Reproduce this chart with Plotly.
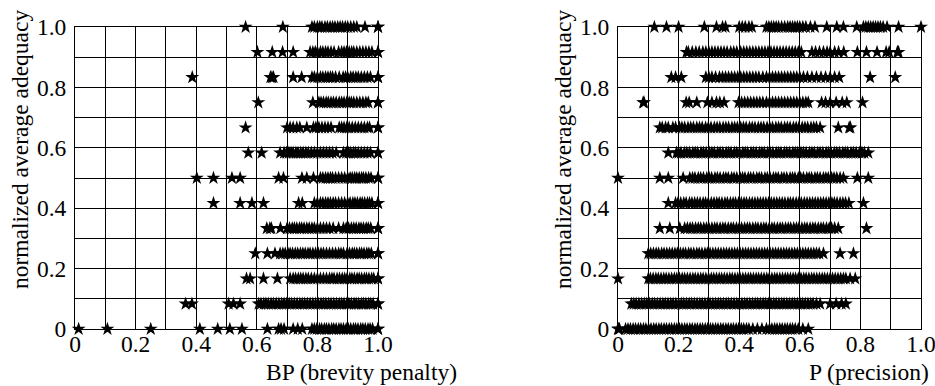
import plotly.graph_objects as go

# ---------------- data ----------------
ADEQUACY_LEVELS = [0.0, 0.0833, 0.1667, 0.25, 0.3333, 0.4167, 0.5,
                   0.5833, 0.6667, 0.75, 0.8333, 0.9167, 1.0]

X_TICK_VALUES = [0.0, 0.1, 0.2, 0.3, 0.4, 0.5, 0.6, 0.7, 0.8, 0.9, 1.0]
X_TICK_TEXT = ["0", "", "0.2", "", "0.4", "", "0.6", "", "0.8", "", "1.0"]
Y_TICK_VALUES = [0.0, 0.1, 0.2, 0.3, 0.4, 0.5, 0.6, 0.7, 0.8, 0.9, 1.0]
Y_TICK_TEXT = ["0", "", "0.2", "", "0.4", "", "0.6", "", "0.8", "", "1.0"]

# BP (brevity penalty) values, one list per adequacy level
BP_00 = [0.012, 0.107, 0.25, 0.412, 0.471, 0.511, 0.551, 0.635, 0.672, 0.68, 0.69, 0.72, 0.735, 0.75,
         0.782, 0.79, 0.798, 0.807, 0.814, 0.823, 0.83, 0.838, 0.847, 0.854, 0.862, 0.871, 0.878, 0.886,
         0.895, 0.902, 0.91, 0.919, 0.926, 0.934, 0.943, 0.95, 0.958, 0.967, 0.974, 0.982, 1.0, 1.0]
BP_01 = [0.365, 0.386, 0.507, 0.523, 0.545, 0.606, 0.614, 0.623, 0.63, 0.638, 0.647, 0.655, 0.664,
         0.673, 0.682, 0.69, 0.698, 0.707, 0.715, 0.724, 0.733, 0.742, 0.75, 0.758, 0.767, 0.776, 0.785,
         0.794, 0.803, 0.812, 0.82, 0.828, 0.837, 0.845, 0.854, 0.863, 0.872, 0.88, 0.888, 0.897, 0.904,
         0.912, 0.921, 0.928, 0.936, 0.945, 0.952, 0.96, 0.969, 0.976, 0.984, 1.0, 1.0]
BP_02 = [0.566, 0.578, 0.622, 0.668, 0.71, 0.72, 0.728, 0.737, 0.745, 0.753, 0.762, 0.77, 0.78, 0.79,
         0.8, 0.81, 0.82, 0.83, 0.84, 0.848, 0.855, 0.865, 0.873, 0.882, 0.89, 0.898, 0.907, 0.914, 0.922,
         0.931, 0.938, 0.946, 0.955, 0.962, 0.97, 0.979, 0.986, 1.0, 1.0]
BP_03 = [0.595, 0.635, 0.66, 0.677, 0.686, 0.694, 0.703, 0.71, 0.718, 0.727, 0.735, 0.744, 0.752, 0.76,
         0.769, 0.776, 0.785, 0.794, 0.803, 0.812, 0.82, 0.83, 0.84, 0.85, 0.86, 0.87, 0.878, 0.886, 0.898,
         0.906, 0.915, 0.922, 0.93, 0.939, 0.946, 0.954, 0.963, 0.97, 0.978, 1.0, 1.0]
BP_04 = [0.633, 0.643, 0.648, 0.678, 0.7, 0.708, 0.717, 0.724, 0.732, 0.741, 0.748, 0.756, 0.765, 0.773,
         0.782, 0.79, 0.8, 0.81, 0.82, 0.83, 0.84, 0.852, 0.87, 0.886, 0.895, 0.903, 0.912, 0.92, 0.928,
         0.937, 0.944, 0.952, 0.961, 0.968, 0.976, 1.0, 1.0]
BP_05 = [0.457, 0.545, 0.584, 0.622, 0.738, 0.75, 0.79, 0.8, 0.81, 0.818, 0.827, 0.835, 0.843, 0.852,
         0.86, 0.87, 0.88, 0.89, 0.9, 0.908, 0.917, 0.924, 0.932, 0.941, 0.948, 0.956, 0.965, 0.972, 0.98,
         1.0, 1.0]
BP_06 = [0.402, 0.457, 0.518, 0.545, 0.672, 0.688, 0.749, 0.765, 0.787, 0.81, 0.818, 0.827, 0.835, 0.843,
         0.85, 0.86, 0.87, 0.88, 0.89, 0.9, 0.908, 0.915, 0.923, 0.93, 0.938, 0.946, 0.952, 0.96, 0.969,
         0.977, 1.0, 1.0]
BP_07 = [0.572, 0.616, 0.677, 0.69, 0.698, 0.706, 0.713, 0.72, 0.729, 0.736, 0.745, 0.753, 0.762, 0.77,
         0.78, 0.79, 0.8, 0.81, 0.82, 0.83, 0.84, 0.85, 0.862, 0.886, 0.895, 0.903, 0.91, 0.919, 0.926,
         0.935, 0.945, 0.955, 0.965, 0.975, 1.0, 1.0]
BP_08 = [0.563, 0.7, 0.71, 0.72, 0.732, 0.742, 0.765, 0.787, 0.795, 0.805, 0.815, 0.825, 0.835, 0.845,
         0.872, 0.88, 0.888, 0.897, 0.905, 0.915, 0.925, 0.935, 0.945, 0.955, 0.965, 0.972, 1.0, 1.0]
BP_09 = [0.605, 0.785, 0.805, 0.812, 0.82, 0.829, 0.836, 0.845, 0.853, 0.862, 0.872, 0.88, 0.888, 0.897,
         0.905, 0.912, 0.92, 0.93, 0.94, 0.95, 0.96, 0.968, 1.0, 1.0]
BP_10 = [0.387, 0.645, 0.65, 0.655, 0.72, 0.748, 0.782, 0.79, 0.8, 0.81, 0.818, 0.827, 0.835, 0.843,
         0.85, 0.86, 0.872, 0.885, 0.893, 0.9, 0.91, 0.918, 0.927, 0.935, 0.945, 0.955, 0.965, 0.975,
         1.0, 1.0]
BP_11 = [0.602, 0.651, 0.685, 0.72, 0.776, 0.785, 0.793, 0.8, 0.81, 0.818, 0.827, 0.835, 0.845, 0.855,
         0.87, 0.88, 0.888, 0.896, 0.905, 0.913, 0.92, 0.93, 0.94, 0.95, 0.96, 0.97, 0.98, 1.0, 1.0]
BP_12 = [0.563, 0.686, 0.782, 0.79, 0.8, 0.808, 0.815, 0.825, 0.833, 0.842, 0.85, 0.858, 0.867, 0.875,
         0.883, 0.892, 0.9, 0.91, 0.92, 0.93, 0.957, 1.0, 1.0]

# P (precision) values, one list per adequacy level
P_00 = [0.0, 0.002, 0.005, 0.025, 0.033, 0.041, 0.05, 0.058, 0.067, 0.075, 0.084, 0.092, 0.101, 0.109,
        0.118, 0.126, 0.135, 0.143, 0.152, 0.16, 0.169, 0.177, 0.186, 0.194, 0.203, 0.211, 0.22, 0.228,
        0.237, 0.245, 0.254, 0.262, 0.271, 0.279, 0.288, 0.296, 0.305, 0.313, 0.322, 0.33, 0.339, 0.347,
        0.356, 0.364, 0.373, 0.381, 0.39, 0.398, 0.407, 0.415, 0.424, 0.432, 0.445, 0.46, 0.475, 0.49,
        0.5, 0.508, 0.517, 0.525, 0.534, 0.542, 0.551, 0.559, 0.568, 0.576, 0.585, 0.595, 0.61, 0.628]
P_01 = [0.044, 0.052, 0.06, 0.069, 0.078, 0.087, 0.095, 0.104, 0.113, 0.121, 0.13, 0.139, 0.148, 0.156,
        0.165, 0.174, 0.182, 0.191, 0.2, 0.209, 0.217, 0.226, 0.235, 0.243, 0.252, 0.261, 0.27, 0.278,
        0.287, 0.296, 0.304, 0.313, 0.322, 0.331, 0.339, 0.348, 0.357, 0.365, 0.374, 0.383, 0.392, 0.4,
        0.409, 0.418, 0.426, 0.435, 0.444, 0.453, 0.461, 0.47, 0.479, 0.487, 0.496, 0.505, 0.514, 0.522,
        0.531, 0.54, 0.548, 0.557, 0.566, 0.575, 0.583, 0.592, 0.601, 0.609, 0.618, 0.627, 0.636, 0.644,
        0.655, 0.667, 0.7, 0.72, 0.738, 0.752]
P_02 = [0.0, 0.1, 0.107, 0.116, 0.125, 0.133, 0.142, 0.151, 0.159, 0.168, 0.177, 0.186, 0.194, 0.203,
        0.212, 0.22, 0.229, 0.238, 0.247, 0.255, 0.264, 0.273, 0.281, 0.29, 0.299, 0.308, 0.316, 0.325,
        0.334, 0.342, 0.351, 0.36, 0.369, 0.377, 0.386, 0.395, 0.403, 0.412, 0.421, 0.43, 0.438, 0.447,
        0.456, 0.464, 0.473, 0.482, 0.491, 0.499, 0.508, 0.517, 0.525, 0.534, 0.543, 0.552, 0.56, 0.569,
        0.578, 0.586, 0.595, 0.604, 0.613, 0.621, 0.63, 0.639, 0.647, 0.656, 0.665, 0.674, 0.682, 0.691,
        0.7, 0.708, 0.717, 0.726, 0.735, 0.744, 0.752, 0.766, 0.783]
P_03 = [0.1, 0.108, 0.117, 0.126, 0.134, 0.144, 0.152, 0.161, 0.17, 0.179, 0.188, 0.196, 0.206, 0.215,
        0.223, 0.233, 0.241, 0.25, 0.26, 0.268, 0.277, 0.287, 0.295, 0.304, 0.313, 0.322, 0.331, 0.34,
        0.349, 0.358, 0.367, 0.376, 0.385, 0.394, 0.403, 0.412, 0.421, 0.43, 0.439, 0.448, 0.457, 0.466,
        0.475, 0.484, 0.493, 0.502, 0.511, 0.52, 0.529, 0.538, 0.547, 0.556, 0.565, 0.574, 0.583, 0.592,
        0.601, 0.61, 0.619, 0.628, 0.637, 0.646, 0.655, 0.664, 0.678, 0.733, 0.777]
P_04 = [0.138, 0.171, 0.204, 0.22, 0.229, 0.238, 0.246, 0.256, 0.265, 0.273, 0.283, 0.292, 0.3, 0.31,
        0.319, 0.327, 0.337, 0.346, 0.354, 0.364, 0.373, 0.381, 0.391, 0.4, 0.408, 0.418, 0.427, 0.435,
        0.445, 0.454, 0.462, 0.472, 0.481, 0.489, 0.499, 0.508, 0.516, 0.526, 0.535, 0.543, 0.553, 0.562,
        0.57, 0.58, 0.589, 0.597, 0.607, 0.616, 0.624, 0.634, 0.643, 0.651, 0.661, 0.67, 0.678, 0.688,
        0.697, 0.705, 0.715, 0.727, 0.82]
P_05 = [0.166, 0.19, 0.198, 0.207, 0.217, 0.225, 0.236, 0.244, 0.253, 0.262, 0.271, 0.281, 0.289, 0.298,
        0.308, 0.317, 0.326, 0.334, 0.343, 0.353, 0.361, 0.371, 0.38, 0.388, 0.398, 0.407, 0.416, 0.424,
        0.434, 0.443, 0.452, 0.461, 0.47, 0.479, 0.488, 0.497, 0.506, 0.515, 0.524, 0.533, 0.542, 0.551,
        0.561, 0.569, 0.578, 0.588, 0.597, 0.605, 0.615, 0.624, 0.633, 0.642, 0.651, 0.66, 0.669, 0.678,
        0.687, 0.696, 0.706, 0.714, 0.723, 0.733, 0.742, 0.751, 0.762, 0.81]
P_06 = [0.0, 0.138, 0.166, 0.215, 0.237, 0.246, 0.254, 0.265, 0.273, 0.282, 0.293, 0.301, 0.309, 0.32,
        0.328, 0.337, 0.348, 0.356, 0.364, 0.375, 0.383, 0.392, 0.403, 0.411, 0.419, 0.43, 0.438, 0.447,
        0.458, 0.466, 0.474, 0.485, 0.493, 0.502, 0.513, 0.521, 0.529, 0.54, 0.548, 0.557, 0.568, 0.576,
        0.584, 0.595, 0.603, 0.612, 0.623, 0.631, 0.639, 0.65, 0.658, 0.667, 0.678, 0.686, 0.694, 0.705,
        0.713, 0.722, 0.733, 0.744, 0.79, 0.826]
P_07 = [0.166, 0.193, 0.2, 0.208, 0.219, 0.227, 0.236, 0.247, 0.255, 0.263, 0.274, 0.282, 0.291, 0.302,
        0.31, 0.318, 0.329, 0.337, 0.346, 0.357, 0.365, 0.373, 0.384, 0.392, 0.401, 0.412, 0.42, 0.428,
        0.439, 0.447, 0.456, 0.467, 0.475, 0.483, 0.494, 0.502, 0.511, 0.522, 0.53, 0.538, 0.549, 0.557,
        0.566, 0.577, 0.585, 0.593, 0.604, 0.612, 0.621, 0.632, 0.64, 0.648, 0.659, 0.667, 0.676, 0.687,
        0.695, 0.703, 0.714, 0.722, 0.731, 0.742, 0.75, 0.758, 0.769, 0.777, 0.786, 0.797, 0.805, 0.813,
        0.826]
P_08 = [0.138, 0.146, 0.157, 0.166, 0.181, 0.19, 0.203, 0.211, 0.22, 0.231, 0.24, 0.249, 0.26, 0.269,
        0.278, 0.289, 0.298, 0.307, 0.318, 0.327, 0.336, 0.347, 0.356, 0.365, 0.376, 0.385, 0.394, 0.405,
        0.414, 0.423, 0.434, 0.443, 0.452, 0.463, 0.472, 0.481, 0.492, 0.501, 0.51, 0.521, 0.53, 0.539,
        0.55, 0.559, 0.568, 0.579, 0.588, 0.597, 0.608, 0.617, 0.626, 0.637, 0.646, 0.655, 0.667, 0.727,
        0.763, 0.767]
P_09 = [0.083, 0.086, 0.225, 0.235, 0.26, 0.295, 0.31, 0.325, 0.336, 0.35, 0.398, 0.408, 0.418, 0.428,
        0.438, 0.448, 0.458, 0.468, 0.478, 0.49, 0.5, 0.51, 0.52, 0.53, 0.54, 0.55, 0.56, 0.57, 0.58, 0.59,
        0.6, 0.61, 0.62, 0.628, 0.672, 0.685, 0.7, 0.72, 0.74, 0.755, 0.807]
P_10 = [0.176, 0.19, 0.209, 0.29, 0.3, 0.31, 0.322, 0.335, 0.345, 0.355, 0.365, 0.375, 0.385, 0.395,
        0.405, 0.415, 0.425, 0.435, 0.445, 0.455, 0.465, 0.478, 0.49, 0.5, 0.51, 0.52, 0.53, 0.54, 0.55,
        0.56, 0.57, 0.58, 0.59, 0.6, 0.612, 0.625, 0.64, 0.655, 0.67, 0.685, 0.7, 0.715, 0.73, 0.832, 0.915]
P_11 = [0.226, 0.232, 0.245, 0.257, 0.268, 0.28, 0.29, 0.3, 0.31, 0.32, 0.33, 0.34, 0.35, 0.36, 0.372,
        0.382, 0.392, 0.405, 0.415, 0.425, 0.435, 0.445, 0.455, 0.465, 0.475, 0.485, 0.495, 0.505, 0.515,
        0.525, 0.535, 0.545, 0.555, 0.565, 0.575, 0.585, 0.595, 0.605, 0.64, 0.652, 0.665, 0.678, 0.69,
        0.7, 0.715, 0.728, 0.745, 0.79, 0.82, 0.855, 0.885, 0.895, 0.922, 0.926]
P_12 = [0.12, 0.16, 0.2, 0.285, 0.325, 0.345, 0.355, 0.4, 0.41, 0.42, 0.432, 0.442, 0.49, 0.498, 0.506,
        0.514, 0.522, 0.53, 0.54, 0.55, 0.56, 0.568, 0.576, 0.584, 0.592, 0.6, 0.61, 0.62, 0.635, 0.65,
        0.689, 0.722, 0.744, 0.788, 0.81, 0.818, 0.826, 0.834, 0.842, 0.85, 0.858, 0.866, 0.875, 0.888,
        0.926, 1.0]

BP_ROWS = [BP_00, BP_01, BP_02, BP_03, BP_04, BP_05, BP_06, BP_07, BP_08, BP_09, BP_10, BP_11, BP_12]
P_ROWS = [P_00, P_01, P_02, P_03, P_04, P_05, P_06, P_07, P_08, P_09, P_10, P_11, P_12]


def flatten(rows):
    xs, ys = [], []
    for level, row in zip(ADEQUACY_LEVELS, rows):
        xs.extend(row)
        ys.extend([level] * len(row))
    return xs, ys


bp_x, bp_y = flatten(BP_ROWS)
p_x, p_y = flatten(P_ROWS)

# ---------------- figure ----------------
W, H = 935, 386
FONT = "Liberation Serif"
FS = 23.5

marker = dict(symbol="star", size=10.5, color="black", line=dict(width=0))

fig = go.Figure()
fig.add_trace(go.Scatter(x=bp_x, y=bp_y, mode="markers", marker=marker,
                         cliponaxis=False, xaxis="x", yaxis="y", showlegend=False))
fig.add_trace(go.Scatter(x=p_x, y=p_y, mode="markers", marker=marker,
                         cliponaxis=False, xaxis="x2", yaxis="y2", showlegend=False))

axis_style = dict(range=[0, 1], showgrid=True, gridcolor="black", gridwidth=1,
                  zeroline=False, showline=True, linecolor="black", linewidth=1,
                  mirror=True, ticks="", automargin=False, fixedrange=True,
                  ticklabeloverflow="allow",
                  tickfont=dict(family=FONT, size=FS, color="black"))

ydom = [57 / H, 359 / H]
fig.update_layout(
    width=W, height=H, margin=dict(l=0, r=0, t=0, b=0),
    paper_bgcolor="white", plot_bgcolor="white", template="none",
    font=dict(family=FONT, size=FS, color="black"),
    xaxis=dict(domain=[75 / W, 378 / W], anchor="y", tickvals=X_TICK_VALUES,
               ticktext=X_TICK_TEXT, ticklabelstandoff=-6, **axis_style),
    yaxis=dict(domain=ydom, anchor="x", tickvals=Y_TICK_VALUES,
               ticktext=Y_TICK_TEXT, ticklabelstandoff=3, **axis_style),
    xaxis2=dict(domain=[618 / W, 921 / W], anchor="y2", tickvals=X_TICK_VALUES,
                ticktext=X_TICK_TEXT, ticklabelstandoff=-6, **axis_style),
    yaxis2=dict(domain=ydom, anchor="x2", tickvals=Y_TICK_VALUES,
                ticktext=Y_TICK_TEXT, ticklabelstandoff=3, **axis_style),
)

title_font = dict(family=FONT, size=FS, color="black")
annotations = [
    dict(text="BP (brevity penalty)", x=361 / W, y=1 - 372 / H, xref="paper", yref="paper",
         xanchor="center", yanchor="middle", showarrow=False, font=title_font),
    dict(text="P (precision)", x=869 / W, y=1 - 372 / H, xref="paper", yref="paper",
         xanchor="center", yanchor="middle", showarrow=False, font=title_font),
    dict(text="normalized average adequacy", x=20 / W, y=1 - 150 / H, xref="paper", yref="paper",
         xanchor="center", yanchor="middle", textangle=-90, showarrow=False, font=title_font),
    dict(text="normalized average adequacy", x=563 / W, y=1 - 150 / H, xref="paper", yref="paper",
         xanchor="center", yanchor="middle", textangle=-90, showarrow=False, font=title_font),
]
fig.update_layout(annotations=annotations)

fig.write_html("out.html", config={"displayModeBar": False},
               post_script="document.body.style.margin='0px';")
